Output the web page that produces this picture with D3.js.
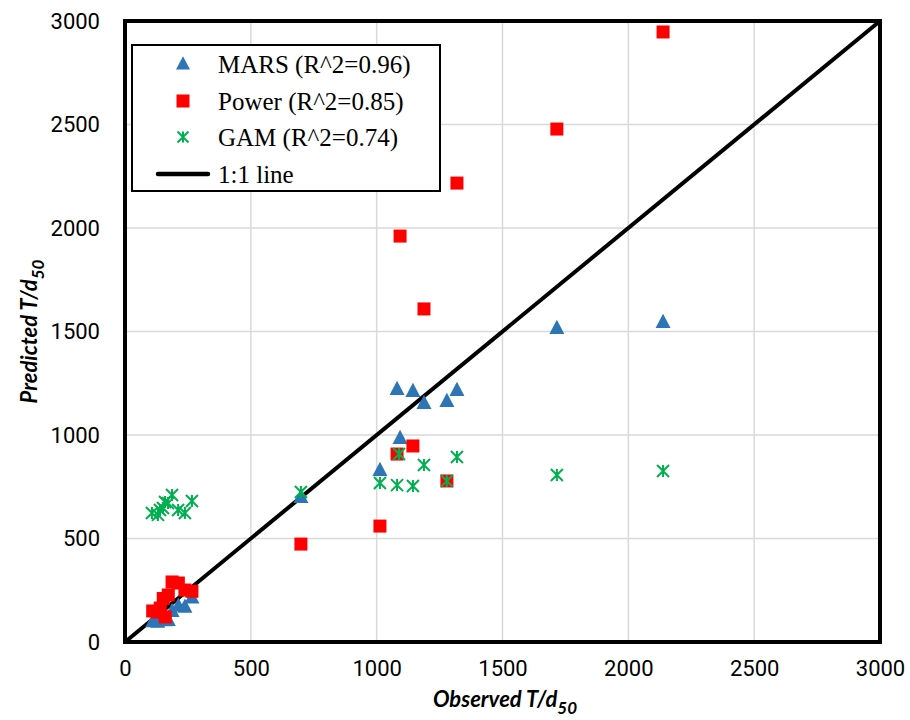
<!DOCTYPE html>
<html><head><meta charset="utf-8">
<script src="https://cdn.jsdelivr.net/npm/d3@7"></script>
<style>body{margin:0;background:#fff}</style>
</head><body><svg id="c" width="910" height="720"></svg>
<script>
// Observed values (shared by all models)
const observed = [110, 130, 140, 152, 160, 172, 187, 212, 238, 266, 699, 1013, 1081, 1093, 1144, 1188, 1279, 1319, 1716, 2138];
const marsPred  = [100, 98, 110, 130, 105, 106, 150, 175, 170, 215, 700, 831, 1222, 985, 1213, 1155, 1164, 1217, 1517, 1546];
const powerPred = [150, 145, 164, 210, 121, 227, 290, 285, 251, 245, 473, 560, 908, 1961, 947, 1609, 778, 2217, 2478, 2947];
const gamObs    = [107, 131, 139, 151, 159, 171, 187, 211, 238, 266, 699, 1013, 1081, 1089, 1144, 1188, 1279, 1319, 1716, 2138];
const gamPred   = [623, 614, 638, 647, 676, 671, 710, 638, 623, 681, 725, 768, 758, 908, 754, 855, 778, 894, 807, 826];
const xTicks = [0, 500, 1000, 1500, 2000, 2500, 3000];
const yTicks = [0, 500, 1000, 1500, 2000, 2500, 3000];
const legendLabels = ["MARS (R^2=0.96)", "Power (R^2=0.85)", "GAM (R^2=0.74)", "1:1 line"];

const svg = d3.select("#c");
const L = 125, R = 880, T = 21, B = 642;
const x = d3.scaleLinear().domain([0, 3000]).range([L, R]);
const y = d3.scaleLinear().domain([0, 3000]).range([B, T]);

// gridlines
svg.append("g").selectAll("line.v").data(xTicks.slice(1, -1)).join("line")
  .attr("x1", d => x(d)).attr("x2", d => x(d)).attr("y1", T).attr("y2", B)
  .attr("stroke", "#d9d9d9").attr("stroke-width", 1.5);
svg.append("g").selectAll("line.h").data(yTicks.slice(1, -1)).join("line")
  .attr("y1", d => y(d)).attr("y2", d => y(d)).attr("x1", L).attr("x2", R)
  .attr("stroke", "#d9d9d9").attr("stroke-width", 1.5);

// axes
const tickFont = "Roboto, 'Open Sans', sans-serif";
const xAxis = svg.append("g").attr("transform", `translate(0,${B})`)
  .call(d3.axisBottom(x).tickValues(xTicks).tickFormat(d3.format("d")).tickSize(0).tickPadding(18));
const yAxis = svg.append("g").attr("transform", `translate(${L},0)`)
  .call(d3.axisLeft(y).tickValues(yTicks).tickFormat(d3.format("d")).tickSize(0).tickPadding(25));
[xAxis, yAxis].forEach(a => {
  a.select(".domain").remove();
  a.selectAll("text").attr("font-family", tickFont).attr("font-size", 22).attr("fill", "#000");
});

// 1:1 line
svg.append("line").attr("x1", x(0)).attr("y1", y(0)).attr("x2", x(3000)).attr("y2", y(3000))
  .attr("stroke", "#000").attr("stroke-width", 4);

// markers
const tri = (cx, cy, s) => `M${cx},${cy - s * 0.55}L${cx + s / 2},${cy + s * 0.4}L${cx - s / 2},${cy + s * 0.4}Z`;
const gMars = svg.append("g");
gMars.selectAll("path").data(observed.map((o, i) => [o, marsPred[i]])).join("path")
  .attr("d", d => tri(x(d[0]), y(d[1]), 15)).attr("fill", "#2e75b6");
const gPow = svg.append("g");
gPow.selectAll("rect").data(observed.map((o, i) => [o, powerPred[i]])).join("rect")
  .attr("x", d => x(d[0]) - 6.5).attr("y", d => y(d[1]) - 6.5).attr("width", 13).attr("height", 13)
  .attr("fill", "#ff0000");
function asterisk(g, cx, cy, s) {
  const h = s / 2;
  g.append("path").attr("d", `M${cx - h},${cy - h}L${cx + h},${cy + h}M${cx - h},${cy + h}L${cx + h},${cy - h}M${cx},${cy - h}L${cx},${cy + h}`)
    .attr("stroke", "#00b050").attr("stroke-width", 2).attr("fill", "none");
}
const gGam = svg.append("g");
gamObs.forEach((o, i) => asterisk(gGam, x(o), y(gamPred[i]), 12));

// frame
svg.append("rect").attr("x", L).attr("y", T).attr("width", R - L).attr("height", B - T)
  .attr("fill", "none").attr("stroke", "#000").attr("stroke-width", 4);

// legend
const lg = svg.append("g");
lg.append("rect").attr("x", 132).attr("y", 45).attr("width", 308).attr("height", 146)
  .attr("fill", "#fff").attr("stroke", "#000").attr("stroke-width", 2);
const rowsY = [64, 101, 137, 174];
lg.append("path").attr("d", tri(183, rowsY[0], 14)).attr("fill", "#2e75b6");
lg.append("rect").attr("x", 176.5).attr("y", rowsY[1] - 6.5).attr("width", 13).attr("height", 13).attr("fill", "#ff0000");
asterisk(lg, 183, rowsY[2], 11);
lg.append("line").attr("x1", 158).attr("x2", 208).attr("y1", rowsY[3]).attr("y2", rowsY[3])
  .attr("stroke", "#000").attr("stroke-width", 4.5).attr("stroke-linecap", "round");
lg.selectAll("text").data(legendLabels).join("text")
  .attr("x", 218).attr("y", (d, i) => rowsY[i]).attr("dy", "0.35em")
  .attr("font-family", "'Liberation Serif', 'Times New Roman', serif").attr("font-size", 25)
  .attr("fill", "#000").text(d => d);

// axis titles
const titleFont = "Lato, 'Open Sans', sans-serif";
const xt = svg.append("text").attr("x", 505).attr("y", 707).attr("text-anchor", "middle")
  .attr("font-family", titleFont).attr("font-size", 22).attr("font-weight", "bold").attr("font-style", "italic");
xt.append("tspan").text("Observed T/d");
xt.append("tspan").attr("dy", 7).attr("font-size", 17).text("50");
const yt = svg.append("text").attr("transform", `translate(37,${(T + B) / 2}) rotate(-90)`).attr("text-anchor", "middle")
  .attr("font-family", titleFont).attr("font-size", 22).attr("font-weight", "bold").attr("font-style", "italic");
yt.append("tspan").text("Predicted T/d");
yt.append("tspan").attr("dy", 7).attr("font-size", 17).text("50");
</script></body></html>
